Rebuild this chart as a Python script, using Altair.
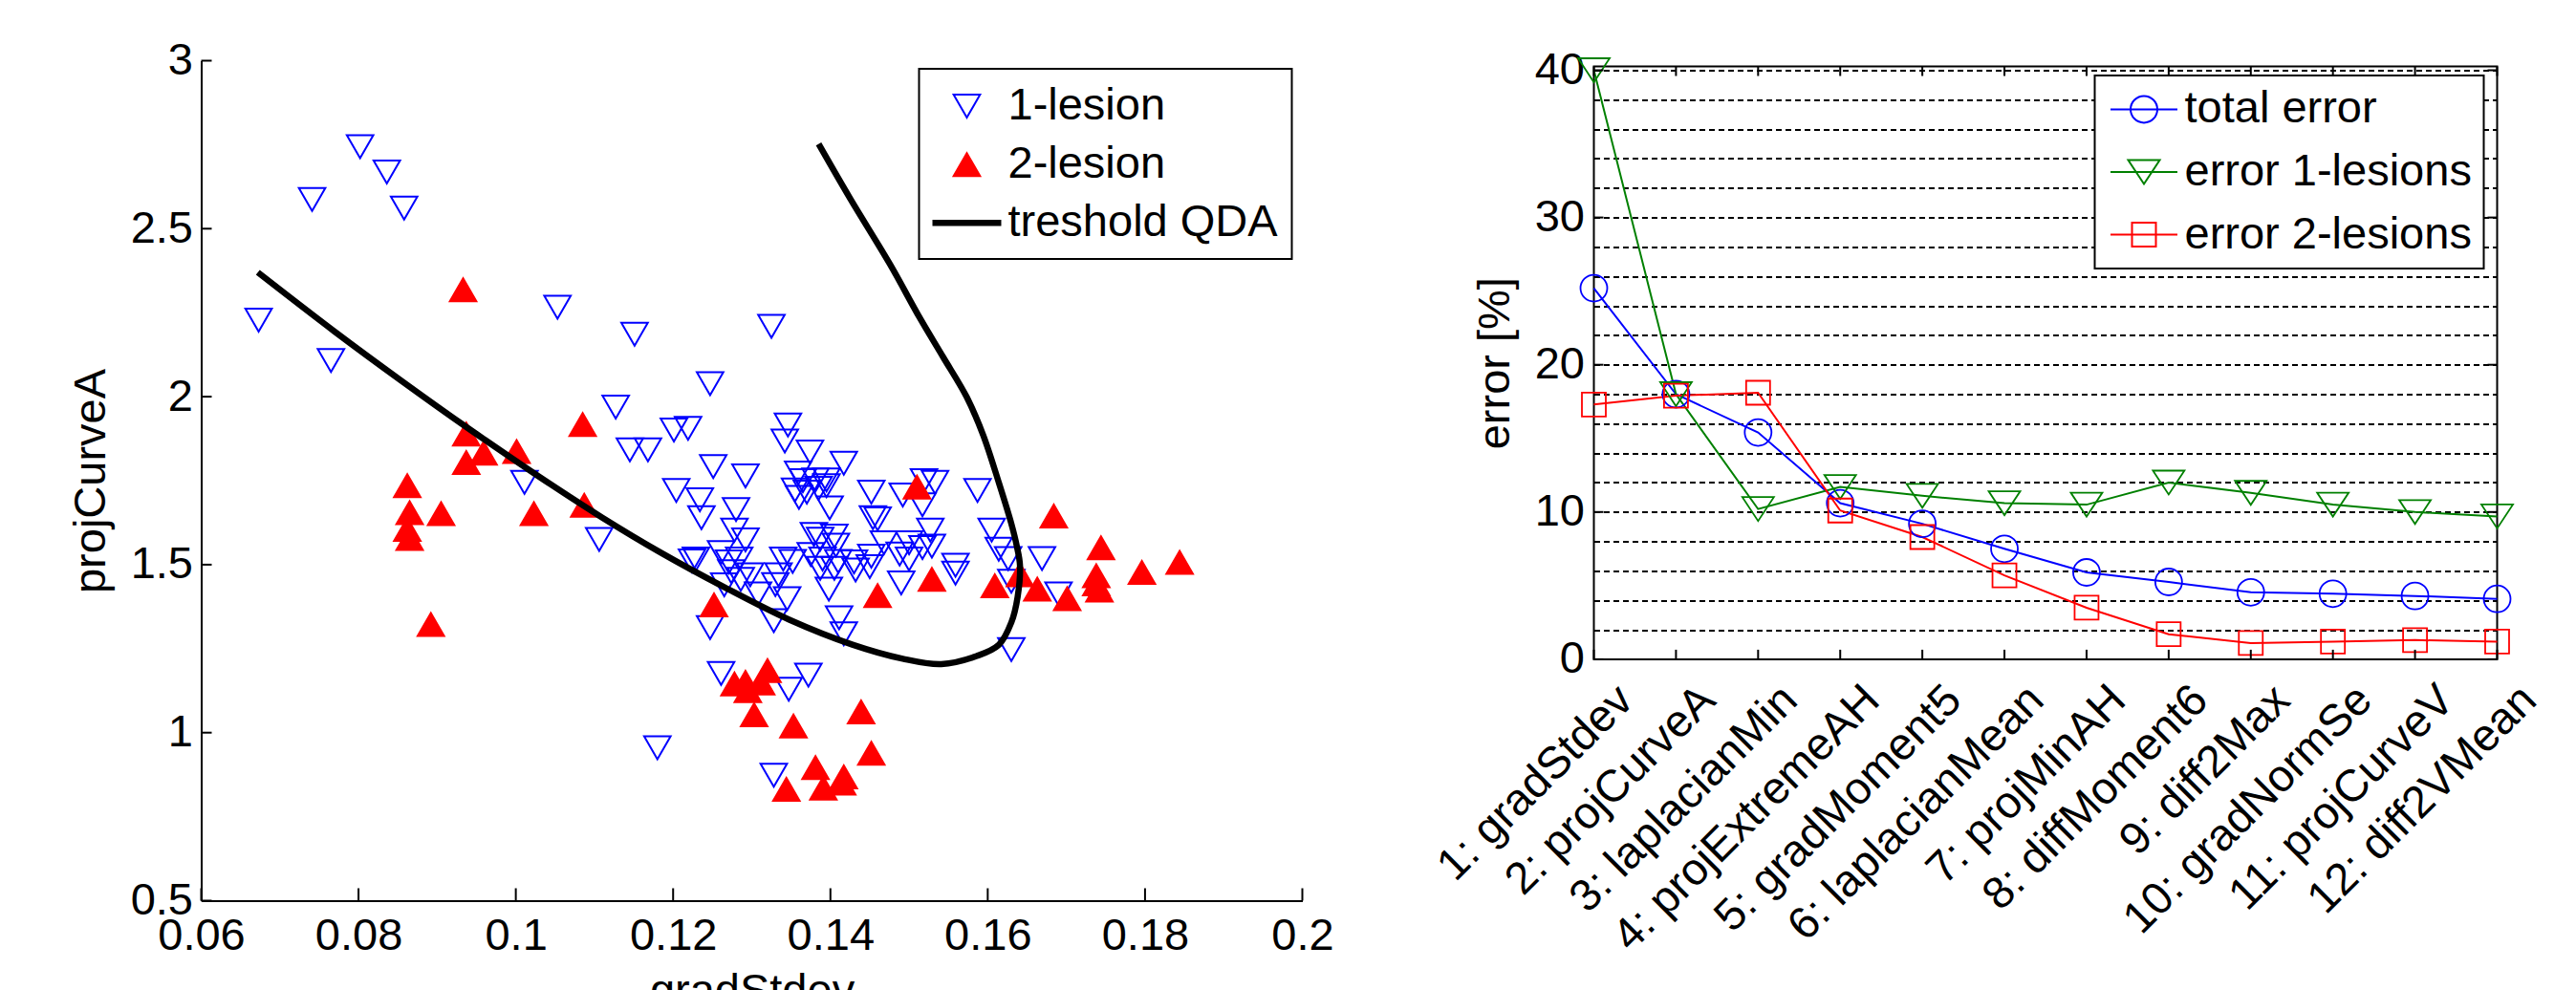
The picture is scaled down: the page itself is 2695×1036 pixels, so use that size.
import altair as alt
import pandas as pd

FONT = "Liberation Sans"
FS = 47

# ---------------- left panel data ----------------
blue_x = [0.0673, 0.0741, 0.0802, 0.0836, 0.0858, 0.0765, 0.1053, 0.1151, 0.1325, 0.1127,
          0.1145, 0.1168, 0.1011, 0.1106, 0.1180, 0.1247, 0.1201, 0.1219, 0.1346, 0.1342,
          0.1374, 0.1417, 0.1251, 0.1292, 0.1204, 0.1234, 0.1236, 0.1280, 0.1359, 0.1365,
          0.1381, 0.1395, 0.1355, 0.1370, 0.1385, 0.1395, 0.1360, 0.1399, 0.1452, 0.1454,
          0.1278, 0.1292, 0.1379, 0.1387, 0.1405, 0.1407, 0.1229, 0.1261, 0.1271, 0.1284,
          0.1340, 0.1352, 0.1375, 0.1390, 0.1410, 0.1430, 0.1452, 0.1274, 0.1286, 0.1298,
          0.1334, 0.1330, 0.1345, 0.1308, 0.1387, 0.1405, 0.1432, 0.1450, 0.1398, 0.1328,
          0.1411, 0.1417, 0.1247, 0.1261, 0.1372, 0.1347, 0.1328, 0.1519, 0.1533, 0.1492,
          0.1517, 0.1587, 0.1460, 0.1527, 0.1605, 0.1468, 0.1500, 0.1517, 0.1529, 0.1488,
          0.1500, 0.1614, 0.1626, 0.1669, 0.1559, 0.1490, 0.1559, 0.1630, 0.1690, 0.1630,
          0.1265, 0.1224]
blue_y = [2.228, 2.587, 2.744, 2.669, 2.561, 2.108, 2.266, 2.186, 2.209, 1.969,
          1.842, 1.842, 1.745, 1.575, 0.955, 2.039, 1.901, 1.906, 1.916, 1.868,
          1.835, 1.802, 1.792, 1.764, 1.721, 1.693, 1.640, 1.664, 1.773, 1.750,
          1.752, 1.752, 1.722, 1.716, 1.727, 1.735, 1.700, 1.669, 1.716, 1.640,
          1.603, 1.574, 1.590, 1.576, 1.585, 1.558, 1.517, 1.536, 1.508, 1.517,
          1.517, 1.510, 1.530, 1.517, 1.510, 1.508, 1.525, 1.479, 1.456, 1.470,
          1.470, 1.441, 1.399, 1.413, 1.489, 1.489, 1.484, 1.494, 1.427, 1.333,
          1.342, 1.294, 1.313, 1.176, 1.171, 1.129, 0.873, 1.750, 1.745, 1.707,
          1.678, 1.721, 1.636, 1.603, 1.603, 1.565, 1.565, 1.551, 1.555, 1.532,
          1.517, 1.546, 1.518, 1.518, 1.498, 1.446, 1.475, 1.451, 1.413, 1.247,
          1.440, 1.511]

red_x = [0.0933, 0.1085, 0.0937, 0.0959, 0.1001, 0.0937, 0.0862, 0.0865, 0.0862, 0.0865,
         0.0905, 0.0892, 0.1023, 0.1087, 0.1510, 0.1684, 0.1744, 0.1844, 0.1796, 0.1738,
         0.1738, 0.1742, 0.1701, 0.1663, 0.1641, 0.1609, 0.1529, 0.1460, 0.1252, 0.1320,
         0.1278, 0.1292, 0.1295, 0.1312, 0.1303, 0.1353, 0.1439, 0.1452, 0.1381, 0.1417,
         0.1344, 0.1391, 0.1415]
red_y = [2.318, 1.917, 1.889, 1.832, 1.837, 1.804, 1.735, 1.655, 1.605, 1.578,
         1.652, 1.322, 1.652, 1.677, 1.731, 1.645, 1.550, 1.507, 1.477, 1.467,
         1.443, 1.424, 1.399, 1.427, 1.470, 1.437, 1.456, 1.408, 1.380, 1.185,
         1.145, 1.150, 1.125, 1.148, 1.053, 1.020, 1.062, 0.939, 0.896, 0.868,
         0.831, 0.835, 0.850]

qda_x = [0.0672, 0.0769, 0.0856, 0.0940, 0.1029, 0.1110, 0.1185, 0.1266, 0.1347, 0.1428,
         0.1492, 0.1541, 0.1586, 0.1614, 0.1630, 0.1638, 0.1641, 0.1637, 0.1630, 0.1614,
         0.1594, 0.1573, 0.1543, 0.1514, 0.1476, 0.1425, 0.1385]
qda_y = [2.370, 2.195, 2.045, 1.905, 1.763, 1.640, 1.535, 1.432, 1.337, 1.262,
         1.220, 1.204, 1.228, 1.261, 1.328, 1.404, 1.498, 1.555, 1.622, 1.745,
         1.887, 2.000, 2.119, 2.233, 2.393, 2.590, 2.752]

groups = ["1-lesion", "2-lesion", "treshold QDA"]
x_ticks_left = [0.06, 0.08, 0.1, 0.12, 0.14, 0.16, 0.18, 0.2]
y_ticks_left = [0.5, 1, 1.5, 2, 2.5, 3]

# ---------------- right panel data ----------------
features = ["1: gradStdev", "2: projCurveA", "3: laplacianMin", "4: projExtremeAH",
            "5: gradMoment5", "6: laplacianMean", "7: projMinAH", "8: diffMoment6",
            "9: diff2Max", "10: gradNormSe", "11: projCurveV", "12: diff2VMean"]
total_error = [25.2, 18.0, 15.4, 10.6, 9.2, 7.5, 5.9, 5.25, 4.55, 4.45, 4.3, 4.1]
error_1 = [40.0, 18.0, 10.2, 11.7, 11.1, 10.6, 10.5, 12.0, 11.3, 10.5, 10.0, 9.7]
error_2 = [17.3, 17.9, 18.1, 10.1, 8.3, 5.7, 3.5, 1.7, 1.1, 1.2, 1.3, 1.2]
series = ["total error", "error 1-lesions", "error 2-lesions"]
colors_r = ["#0000ff", "#008000", "#ff0000"]
y_ticks_right = [0, 10, 20, 30, 40]
grid_right = list(range(0, 41, 2))

WL, HL = 1152, 879
WR, HR = 945, 620.4

# ================= left panel =================
scatter_df = pd.DataFrame({
    "gradStdev": blue_x + red_x,
    "projCurveA": blue_y + red_y,
    "group": [groups[0]] * len(blue_x) + [groups[1]] * len(red_x),
})
qda_df = pd.DataFrame({"gradStdev": qda_x, "projCurveA": qda_y,
                       "group": [groups[2]] * len(qda_x),
                       "order": list(range(len(qda_x)))})
xt_df = pd.DataFrame({"gradStdev": x_ticks_left})
yt_df = pd.DataFrame({"projCurveA": y_ticks_left})

x_left = alt.X("gradStdev:Q", scale=alt.Scale(domain=[0.06, 0.2], nice=False, zero=False),
               axis=alt.Axis(values=x_ticks_left, format="~g", ticks=False, grid=False,
                             domainColor="black", domainWidth=2, labelPadding=14,
                             labelFlush=False, labelOverlap=False, labelFontSize=FS,
                             title="gradStdev", titleFontSize=FS, titleY=72,
                             titleBaseline="top"))
y_left = alt.Y("projCurveA:Q", scale=alt.Scale(domain=[0.5, 3], nice=False, zero=False),
               axis=alt.Axis(values=y_ticks_left, format="~g", ticks=False, grid=False,
                             domainColor="black", domainWidth=2, labelPadding=9,
                             labelFlush=False, labelOverlap=False, labelFontSize=FS,
                             title="projCurveA", titleFontSize=FS, titleX=-91,
                             titleAngle=270, titleBaseline="bottom"))

SL = 2304  # symbol box 48 px
leg_left = alt.Legend(title=None, orient="none", legendX=751, legendY=8.6,
                      direction="vertical", padding=14, rowPadding=13.1,
                      symbolSize=SL, symbolStrokeWidth=2, symbolOffset=11,
                      labelOffset=18, labelFontSize=FS, labelFont=FONT,
                      labelColor="black", labelLimit=700, strokeColor="black",
                      fillColor="white")

tri_down_l = "M-0.577,-0.5L0.577,-0.5L0,0.5Z"
tri_up_l = "M0,-0.5L0.577,0.5L-0.577,0.5Z"
line_path_l = "M-1.458,-0.094L1.458,-0.094L1.458,0.094L-1.458,0.094Z"
stroke_left = alt.Stroke("group:N", scale=alt.Scale(domain=groups,
                         range=["#0000ff", "#ff0000", "#000000"]), legend=leg_left)
fill_left = alt.Fill("group:N", scale=alt.Scale(domain=groups,
                     range=["transparent", "#ff0000", "#000000"]), legend=leg_left)
shape_left = alt.Shape("group:N", scale=alt.Scale(domain=groups,
                       range=[tri_down_l, tri_up_l, line_path_l]), legend=leg_left)

scatter = alt.Chart(scatter_df).mark_point(size=SL, strokeWidth=2, opacity=1).encode(
    x=x_left, y=y_left, stroke=stroke_left, fill=fill_left, shape=shape_left)
qda = alt.Chart(qda_df).mark_line(strokeWidth=6.5, interpolate="catmull-rom").encode(
    x=x_left, y=y_left, order="order:Q", stroke=stroke_left)
xt = alt.Chart(xt_df).mark_rule(color="black", strokeWidth=2).encode(
    x=x_left, y=alt.value(HL), y2=alt.value(HL - 13))
yt = alt.Chart(yt_df).mark_rule(color="black", strokeWidth=2).encode(
    y=y_left, x=alt.value(0), x2=alt.value(11))

left = alt.layer(scatter, qda, xt, yt).properties(width=WL, height=HL)

# ================= right panel =================
rows = []
for s, vals in zip(series, [total_error, error_1, error_2]):
    for i, (f, v) in enumerate(zip(features, vals)):
        rows.append({"feature": f, "error": v, "series": s, "idx": i})
err_df = pd.DataFrame(rows)
xtr_df = pd.DataFrame({"feature": features})
ytr_df = pd.DataFrame({"error": y_ticks_right})

x_right = alt.X("feature:N", sort=features, scale=alt.Scale(type="point", padding=0),
                axis=alt.Axis(ticks=False, domain=False, grid=False, labelAngle=315,
                              labelAlign="right", labelBaseline="middle", labelOffset=33,
                              labelPadding=35, labelFontSize=FS, labelLimit=700,
                              labelOverlap=False, title=None))
y_right = alt.Y("error:Q", scale=alt.Scale(domain=[0, 40.26], nice=False, zero=True),
                axis=alt.Axis(values=grid_right,
                              labelExpr="datum.value % 10 === 0 ? datum.label : ''",
                              format="d", ticks=False, domain=False, grid=True,
                              gridColor="black", gridDash=[6, 4], gridWidth=1.8,
                              labelPadding=10, labelFontSize=FS, labelFlush=False,
                              labelOverlap=False, title="error [%]", titleFontSize=FS,
                              titleX=-79, titleAngle=270, titleBaseline="bottom"))

SR = 1600  # symbol box 40 px
line_path_r = "M-1.75,0L1.75,0"
circle_r = "M-0.7,0A0.7,0.7,0,1,0,0.7,0A0.7,0.7,0,1,0,-0.7,0Z"
tri_r = "M-0.825,-0.625L0.825,-0.625L0,0.625Z"
sq_r = "M-0.625,-0.625L0.625,-0.625L0.625,0.625L-0.625,0.625Z"

leg_common = dict(title=None, orient="none", legendX=524, legendY=9.4, direction="vertical",
                  padding=12, rowPadding=17.6, symbolSize=SR, symbolStrokeWidth=2,
                  symbolOffset=16, labelOffset=19, labelFontSize=FS, labelFont=FONT,
                  labelLimit=700)
leg_a = alt.Legend(symbolType=line_path_r, labelColor="black", strokeColor="black",
                   fillColor="white", **leg_common)
leg_b = alt.Legend(symbolFillColor="transparent", labelColor="transparent", **leg_common)

# line legend: data-derived (sorted) domain; marker legend: explicit domain shared by
# stroke and shape so these two merge into one coloured marker legend
lines = alt.Chart(err_df).mark_line(strokeWidth=2).encode(
    x=x_right, y=y_right, order="idx:Q",
    color=alt.Color("series:N", sort=series, scale=alt.Scale(range=colors_r), legend=leg_a))
points = alt.Chart(err_df).mark_point(filled=False, size=SR, strokeWidth=1.8, opacity=1).encode(
    x=x_right, y=y_right,
    stroke=alt.Stroke("series:N", scale=alt.Scale(domain=series, range=colors_r), legend=leg_b),
    shape=alt.Shape("series:N", scale=alt.Scale(domain=series, range=[circle_r, tri_r, sq_r]),
                    legend=leg_b))
tb = alt.Chart(xtr_df).mark_rule(color="black", strokeWidth=2).encode(
    x=x_right, y=alt.value(HR), y2=alt.value(HR - 10))
tt = alt.Chart(xtr_df).mark_rule(color="black", strokeWidth=2).encode(
    x=x_right, y=alt.value(0), y2=alt.value(10))
tl = alt.Chart(ytr_df).mark_rule(color="black", strokeWidth=2).encode(
    y=y_right, x=alt.value(0), x2=alt.value(10))
tr = alt.Chart(ytr_df).mark_rule(color="black", strokeWidth=2).encode(
    y=y_right, x=alt.value(WR - 10), x2=alt.value(WR))

right = alt.layer(lines, points, tb, tt, tl, tr).properties(
    width=WR, height=HR, view=alt.ViewBackground(stroke="black", strokeWidth=2))

spacer = alt.Chart(pd.DataFrame({"v": [0]})).mark_point(opacity=0).encode(
    x=alt.value(0), y=alt.value(0)).properties(width=WR, height=5.6)

indep_scales = dict(color="independent", stroke="independent", fill="independent",
                    shape="independent")

right_col = alt.vconcat(spacer, right, spacing=0, bounds="flush").resolve_scale(
    **indep_scales).resolve_legend(**indep_scales)

chart = alt.hconcat(left, right_col, spacing=305, bounds="flush").resolve_scale(
    **indep_scales).resolve_legend(**indep_scales).properties(
    padding={"left": 62.5, "top": 30.5, "right": 5, "bottom": 5}
).configure(font=FONT).configure_axis(
    labelFont=FONT, titleFont=FONT, labelColor="black", titleColor="black",
    titleFontWeight="normal"
).configure_legend(labelFont=FONT, strokeWidth=2).configure_view(stroke="transparent")

chart.save("out.html", embed_options={"renderer": "svg", "actions": False})
